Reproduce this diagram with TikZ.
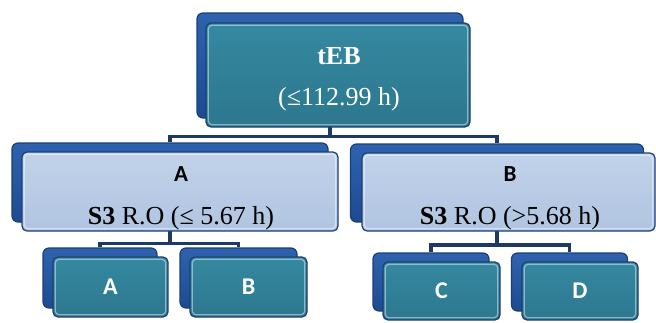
\documentclass[tikz,border=0pt]{standalone}
\usepackage{fontspec}
\setmainfont{Liberation Serif}
\newfontfamily\labelfont{Carlito}
\usepackage{tikz}
\usetikzlibrary{backgrounds,calc}

\definecolor{navy}{HTML}{1B3F73}
\definecolor{linkcol}{HTML}{1C3A63}
\definecolor{tealtop}{HTML}{3589A0}
\definecolor{tealbot}{HTML}{2C778E}
\definecolor{bluetop}{HTML}{2F62AE}
\definecolor{bluebot}{HTML}{1D4B92}
\definecolor{paletop}{HTML}{C2D2EA}
\definecolor{palebot}{HTML}{B0C4E1}

\begin{document}
\begin{tikzpicture}[
		x=1pt, y=-1pt,
		backbox/.style={
			rectangle, rounded corners=6pt,
			draw=navy, line width=1.2pt,
			top color=bluetop, bottom color=bluebot,
			inner sep=0pt
		},
		frontbox/.style={
			rectangle, rounded corners=5pt,
			draw=navy, line width=1.2pt,
			inner sep=0pt,
			path picture={
				\draw[white, opacity=0.45, line width=1.2pt, rounded corners=4pt]
				([shift={(2.2pt,-2.2pt)}]path picture bounding box.north west) rectangle
				([shift={(-2.2pt,2.2pt)}]path picture bounding box.south east);
			}
		},
		darkbox/.style={frontbox, top color=tealtop, bottom color=tealbot},
		palebox/.style={frontbox, top color=paletop, bottom color=palebot},
		link/.style={draw=linkcol, line width=3.5pt},
		serif/.style={align=center, font=\fontsize{26}{41}\selectfont},
		tag/.style={font=\labelfont\bfseries\fontsize{24}{28}\selectfont, text=white}
		]
		\useasboundingbox (0,0) rectangle (656,322);

		% top level
		\node[backbox, minimum width=266pt, minimum height=105pt] (rootbk) at (330,65.5) {};
		\node[darkbox, minimum width=264pt, minimum height=104pt] (root) at (338,75) {};
		\node[serif, text=white] (roottxt) at (339,79.5) {\textbf{tEB}\\(≤112.99 h)};

		% second level
		\node[backbox, minimum width=316pt, minimum height=79pt] (mabk) at (170,182.5) {};
		\node[palebox, minimum width=316pt, minimum height=79pt] (ma) at (180,191.5) {};
		\node[serif, font=\fontsize{26}{43}\selectfont] (matxt) at (181,198)
			{{\labelfont\bfseries\fontsize{23}{43}\selectfont A}\\\textbf{S3} R.O (≤ 5.67 h)};

		\node[backbox, minimum width=293pt, minimum height=78pt] (mbbk) at (497,183) {};
		\node[palebox, minimum width=293pt, minimum height=78pt] (mb) at (508.5,192) {};
		\node[serif, font=\fontsize{26}{43}\selectfont] (mbtxt) at (510,198)
			{{\labelfont\bfseries\fontsize{23}{43}\selectfont B}\\\textbf{S3} R.O (>5.68 h)};

		% leaves
		\node[backbox, minimum width=114pt, minimum height=60pt] (abk) at (100,278) {};
		\node[darkbox, minimum width=115pt, minimum height=60pt, tag] (a) at (110.5,287) {A};
		\node[backbox, minimum width=117pt, minimum height=60pt] (bbk) at (238.5,278) {};
		\node[darkbox, minimum width=117pt, minimum height=60pt, tag] (b) at (248.5,287) {B};
		\node[backbox, minimum width=116pt, minimum height=58pt] (cbk) at (431,282) {};
		\node[darkbox, minimum width=117pt, minimum height=58pt, tag] (c) at (441.5,291) {C};
		\node[backbox, minimum width=116pt, minimum height=58pt] (dbk) at (569.5,282) {};
		\node[darkbox, minimum width=116pt, minimum height=58pt, tag] (d) at (580,291) {D};

		% connectors
		\begin{scope}[on background layer]
			\draw[link] (rootbk.south) -- ++(0,18) -| (mabk.north);
			\draw[link] (rootbk.south) -- ++(0,18) -| (mbbk.north);
			\draw[link] (mabk.south) -- ++(0,21) -| (abk.north);
			\draw[link] (mabk.south) -- ++(0,21) -| (bbk.north);
			\draw[link] (mbbk.south) -- ++(0,22.5) -| (cbk.north);
			\draw[link] (mbbk.south) -- ++(0,22.5) -| (dbk.north);
		\end{scope}
\end{tikzpicture}
\end{document}
